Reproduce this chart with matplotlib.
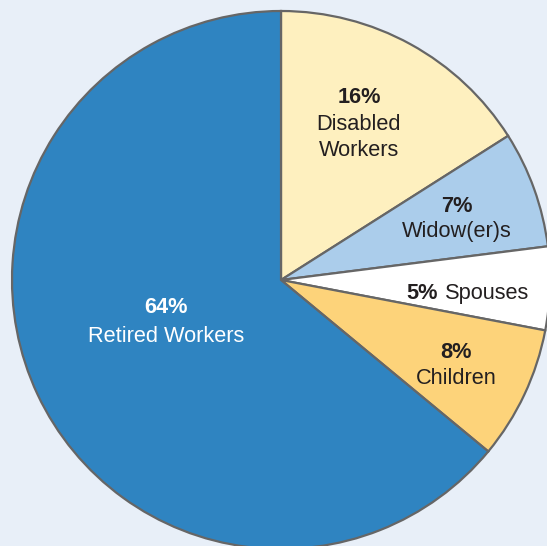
import matplotlib
matplotlib.use("Agg")
import matplotlib.pyplot as plt

# data, clockwise from 12 o'clock
categories = ["Disabled\nWorkers", "Widow(er)s", "Spouses", "Children", "Retired Workers"]
shares = [16, 7, 5, 8, 64]
colors = ["#FEF0BF", "#ABCDEB", "#FFFFFF", "#FDD37A", "#2F84C1"]

plt.rcParams['font.family'] = ['Liberation Sans', 'DejaVu Sans']

W, H = 547, 546
fig = plt.figure(figsize=(W / 100, H / 100), dpi=100)
fig.patch.set_facecolor("#E8EFF8")
ax = fig.add_axes([0, 0, 1, 1])

# pixel coordinates, y axis pointing down
ax.pie(shares, colors=colors, center=(281, 280), radius=269,
       startangle=-90, counterclock=True,
       wedgeprops=dict(edgecolor="#666666", linewidth=1.6))
ax.set_xlim(0, W)
ax.set_ylim(H, 0)
ax.set_aspect('equal')
ax.axis('off')

dark = "#231F20"
fs = 15.7

def label(x, y_pct, y_name, idx, color=dark):
    # y_name is the baseline of the last line of the name
    ax.text(x, y_pct, f"{shares[idx]}%", ha='center', va='baseline',
            fontsize=fs, fontweight='bold', color=color)
    ax.text(x, y_name, categories[idx], ha='center', va='baseline',
            fontsize=fs, color=color, linespacing=1.3,
            multialignment='center')

label(359, 103, 156, 0)
label(457, 212, 237, 1)
label(456, 358, 384, 3)
label(166, 313, 342, 4, color="white")

# Spouses label on one line
ax.text(438, 299, f"{shares[2]}%", ha='right', va='baseline',
        fontsize=fs, fontweight='bold', color=dark)
ax.text(445, 299, categories[2], ha='left', va='baseline',
        fontsize=fs, color=dark)

fig.savefig("out.png", dpi=100, facecolor=fig.get_facecolor())
